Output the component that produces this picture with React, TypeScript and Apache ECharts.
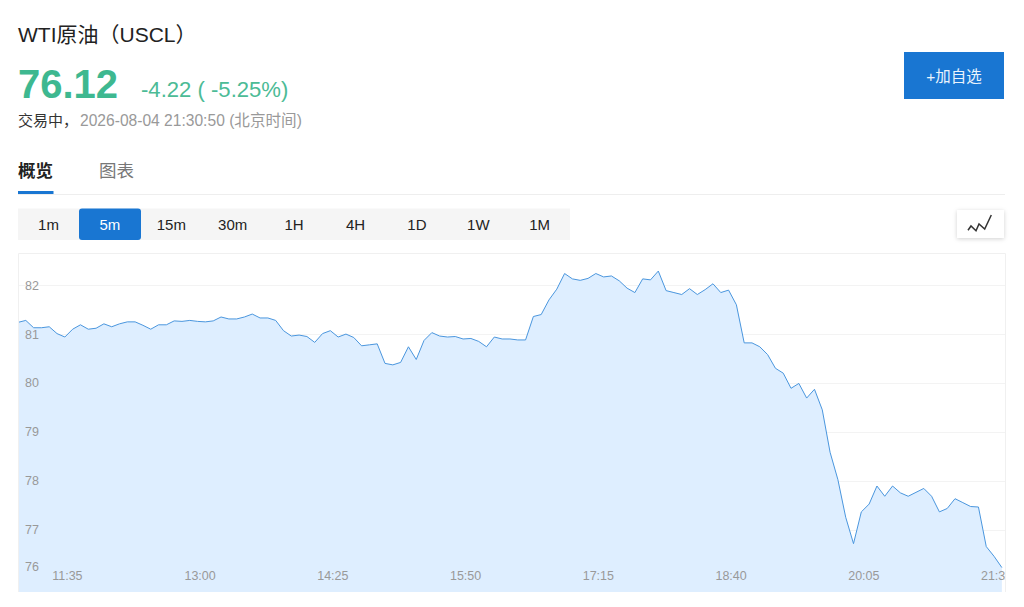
import React, { useEffect, useRef } from "react";
import * as echarts from "echarts";

const FONT = "'Liberation Sans','Noto Sans CJK SC',sans-serif";
const BLUE = "#1976d2";
const GREEN = "#3eb890";

const title = "WTI原油（USCL）";
const lastPrice = "76.12";
const priceChange = "-4.22 ( -5.25%)";
const statusText = "交易中，";
const timeText = "2026-08-04 21:30:50 (北京时间)";
const tabs = ["概览", "图表"];
const periods = ["1m", "5m", "15m", "30m", "1H", "4H", "1D", "1W", "1M"];
const addButton = "+加自选";

const yTicks = [76, 77, 78, 79, 80, 81, 82];
const xTickIndex = [6, 23, 40, 57, 74, 91, 108, 125];
const xTickLabels = ["11:35", "13:00", "14:25", "15:50", "17:15", "18:40", "20:05", "21:30"];

const prices = [
  81.25, 81.29, 81.14, 81.14, 81.16, 81.02, 80.95, 81.11, 81.2, 81.11,
  81.13, 81.22, 81.16, 81.22, 81.26, 81.26, 81.19, 81.11, 81.2, 81.2,
  81.28, 81.27, 81.29, 81.27, 81.26, 81.28, 81.36, 81.32, 81.32, 81.36,
  81.42, 81.34, 81.34, 81.29, 81.08, 80.97, 80.99, 80.96, 80.84, 81.02,
  81.08, 80.95, 81.01, 80.94, 80.77, 80.79, 80.81, 80.41, 80.38, 80.43,
  80.75, 80.49, 80.88, 81.04, 80.97, 80.95, 80.96, 80.91, 80.92, 80.86,
  80.75, 80.95, 80.91, 80.91, 80.89, 80.89, 81.37, 81.41, 81.71, 81.93,
  82.25, 82.14, 82.11, 82.15, 82.25, 82.18, 82.2, 82.1, 81.95, 81.86,
  82.14, 82.12, 82.3, 81.9, 81.86, 81.82, 81.94, 81.82, 81.92, 82.04,
  81.86, 81.91, 81.61, 80.83, 80.83, 80.75, 80.59, 80.31, 80.21, 79.9,
  80.0, 79.7, 79.88, 79.46, 78.59, 78.03, 77.26, 76.72, 77.37, 77.53,
  77.9, 77.69, 77.9, 77.76, 77.69, 77.77, 77.85, 77.69, 77.37, 77.44,
  77.64, 77.56, 77.48, 77.47, 76.66, 76.46, 76.23,
];

function text(str: string, x: number, y: number, fontSize: number, fill: string, extra: any = {}) {
  return {
    type: "text",
    x,
    y,
    z: 10,
    style: {
      text: str,
      fontFamily: FONT,
      fontSize,
      fill,
      textVerticalAlign: "middle",
      textAlign: "left",
      ...extra,
    },
  };
}

function rect(x: number, y: number, width: number, height: number, fill: string, z = 5, extra: any = {}, r = 0) {
  return { type: "rect", z, shape: { x, y, width, height, r }, style: { fill, ...extra } };
}

const periodWidth = 61.4;
const yMin = 75.73;
const yMax = 82.67;

export default function App() {
  const ref = useRef<HTMLDivElement>(null);
  useEffect(() => {
    const chart = echarts.init(ref.current!, undefined, { renderer: "svg" });
    chart.setOption({
      animation: false,
      backgroundColor: "#fff",
      grid: { left: 18, right: 19, top: 253, bottom: 15 },
      xAxis: {
        type: "value",
        min: 0,
        max: 126.4,
        z: 5,
        axisLine: { show: false },
        axisTick: { show: false },
        splitLine: { show: false },
        axisLabel: {
          inside: true,
          margin: 10,
          padding: [0, 0, 0, 5],
          fontFamily: FONT,
          fontSize: 12.5,
          color: "#999",
          showMinLabel: true,
          showMaxLabel: true,
          customValues: xTickIndex,
          formatter: (v: number) => xTickLabels[xTickIndex.indexOf(v)] ?? "",
        },
      },
      yAxis: [
        {
          type: "value",
          min: yMin,
          max: yMax,
          z: 0,
          axisLine: { show: false },
          axisTick: { show: false, customValues: yTicks },
          axisLabel: { show: false, customValues: yTicks },
          splitLine: { show: true, lineStyle: { color: "#f3f3f3", width: 1 } },
        },
        {
          type: "value",
          position: "left",
          min: yMin,
          max: yMax,
          z: 5,
          axisLine: { show: false },
          axisTick: { show: false, customValues: yTicks },
          splitLine: { show: false },
          axisLabel: {
            inside: true,
            margin: 7,
            fontFamily: FONT,
            fontSize: 12.5,
            color: "#999",
            showMinLabel: true,
            showMaxLabel: true,
            customValues: yTicks,
            formatter: (v: number) => (v === 76 ? `{low|${v}}` : `${v}`),
            rich: {
              low: { padding: [0, 0, 24, 0], fontFamily: FONT, fontSize: 12.5, color: "#999" },
            },
          },
        },
      ],
      series: [
        {
          type: "line",
          yAxisIndex: 0,
          z: 2,
          data: prices.map((v, i) => [i, v]),
          showSymbol: false,
          silent: true,
          lineStyle: { color: "#4a96de", width: 1 },
          areaStyle: { color: "#deeeff", opacity: 1 },
        },
      ],
      graphic: {
        elements: [
          text(title, 18, 34, 21, "#222"),
          text(lastPrice, 18, 84, 40, GREEN, { fontWeight: "bold" }),
          text(priceChange, 141, 89, 22.1, "#4cbb96"),
          text(statusText, 18, 120, 15, "#333"),
          text(timeText, 80, 120, 15.6, "#999"),
          text(tabs[0], 18, 171, 17.5, "#222", { fontWeight: "bold" }),
          text(tabs[1], 99, 171, 17.5, "#777"),
          rect(18, 194, 987, 1, "#eeeeee"),
          rect(18, 191, 35.5, 3, BLUE, 6),
          rect(18, 208.5, 552, 31.5, "#f5f5f5"),
          rect(79, 208.5, 62, 31.5, BLUE, 6, {}, 3),
          ...periods.map((p, i) =>
            text(p, 48.5 + i * periodWidth, 224.5, 15, i === 1 ? "#fff" : "#222", { textAlign: "center" })
          ),
          rect(904, 52, 100, 47, BLUE),
          text(addButton, 954, 76, 15.5, "#eaf3fc", { textAlign: "center" }),
          rect(957, 210, 47, 28, "#fff", 5, { shadowBlur: 4, shadowOffsetY: 1, shadowColor: "rgba(0,0,0,0.18)" }),
          {
            type: "polyline",
            z: 6,
            shape: { points: [[968, 230.3], [971, 226], [976, 230.7], [979, 224], [984.7, 229], [991.3, 215]] },
            style: { fill: "none", stroke: "#333", lineWidth: 1.5 },
          },
          {
            type: "polyline",
            z: 6,
            shape: { points: [[18.5, 592], [18.5, 253.5], [1005.5, 253.5], [1005.5, 592]] },
            style: { fill: "none", stroke: "#f0f0f0", lineWidth: 1 },
          },
          rect(1006, 560, 18, 32, "#fff", 7),
        ],
      },
    });
    return () => chart.dispose();
  }, []);
  return <div ref={ref} style={{ position: "absolute", left: 0, top: 0, width: 1024, height: 607 }} />;
}
